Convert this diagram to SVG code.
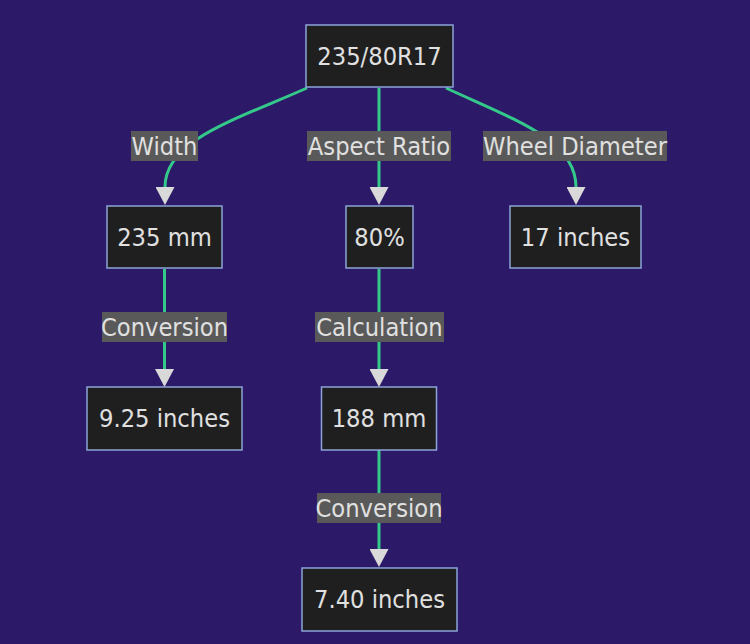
<svg xmlns="http://www.w3.org/2000/svg" width="750" height="644" viewBox="0 0 750 644">
<defs>
<marker id="arrow" viewBox="0 0 18 19" refX="0" refY="9.5" markerWidth="18" markerHeight="19" markerUnits="userSpaceOnUse" orient="auto">
<path d="M0,0 L18,9.5 L0,19 z" fill="#d9d9d9"/>
</marker>
<style>
.node rect{fill:#1f1f1f;stroke:#8ca4d8;stroke-width:1.5}
.node text,.label text{font-family:"DejaVu Sans Condensed","DejaVu Sans",sans-serif;font-size:25.2px;fill:#e0e0e0;text-anchor:middle}
.label rect{fill:#595959}
.edge{fill:none;stroke:#34c98a;stroke-width:3;marker-end:url(#arrow)}
</style>
</defs>
<rect width="750" height="644" fill="#2c1a68"/>
<g id="connectors">
<path class="edge" d="M307,88 C235,120 165,140 165,187"/>
<path class="edge" d="M379,88 L379,187"/>
<path class="edge" d="M446,88 C515,120 576,140 576,187"/>
<path class="edge" d="M164.5,269 L164.5,369"/>
<path class="edge" d="M379,269 L379,369"/>
<path class="edge" d="M379,450 L379,549"/>
</g>
<g id="edge-labels">
<g class="label" id="label-width"><rect x="131" y="131" width="67" height="30"/><text x="164.5" y="155">Width</text></g>
<g class="label" id="label-aspect"><rect x="307" y="131" width="144" height="30"/><text x="379" y="155">Aspect Ratio</text></g>
<g class="label" id="label-wheel"><rect x="483" y="131" width="184" height="30"/><text x="575" y="155">Wheel Diameter</text></g>
<g class="label" id="label-conv1"><rect x="102" y="312" width="125" height="30"/><text x="164.5" y="336">Conversion</text></g>
<g class="label" id="label-calc"><rect x="315" y="312" width="129" height="30"/><text x="379.5" y="336">Calculation</text></g>
<g class="label" id="label-conv2"><rect x="317" y="493" width="124" height="30"/><text x="379" y="517">Conversion</text></g>
</g>
<g class="node" id="node-tire"><rect x="306" y="25" width="147" height="62"/><text x="379.5" y="64.5">235/80R17</text></g>
<g class="node" id="node-width"><rect x="107" y="206" width="115" height="62"/><text x="164.5" y="245.5">235 mm</text></g>
<g class="node" id="node-aspect"><rect x="346" y="206" width="67" height="62"/><text x="379.5" y="245.5">80%</text></g>
<g class="node" id="node-wheel"><rect x="510" y="206" width="131" height="62"/><text x="575.5" y="245.5">17 inches</text></g>
<g class="node" id="node-width-in"><rect x="87" y="387" width="155" height="63"/><text x="164.5" y="427">9.25 inches</text></g>
<g class="node" id="node-sidewall"><rect x="321.5" y="387" width="115" height="63"/><text x="379" y="427">188 mm</text></g>
<g class="node" id="node-sidewall-in"><rect x="302" y="568" width="155" height="63"/><text x="379.5" y="608">7.40 inches</text></g>
</svg>
